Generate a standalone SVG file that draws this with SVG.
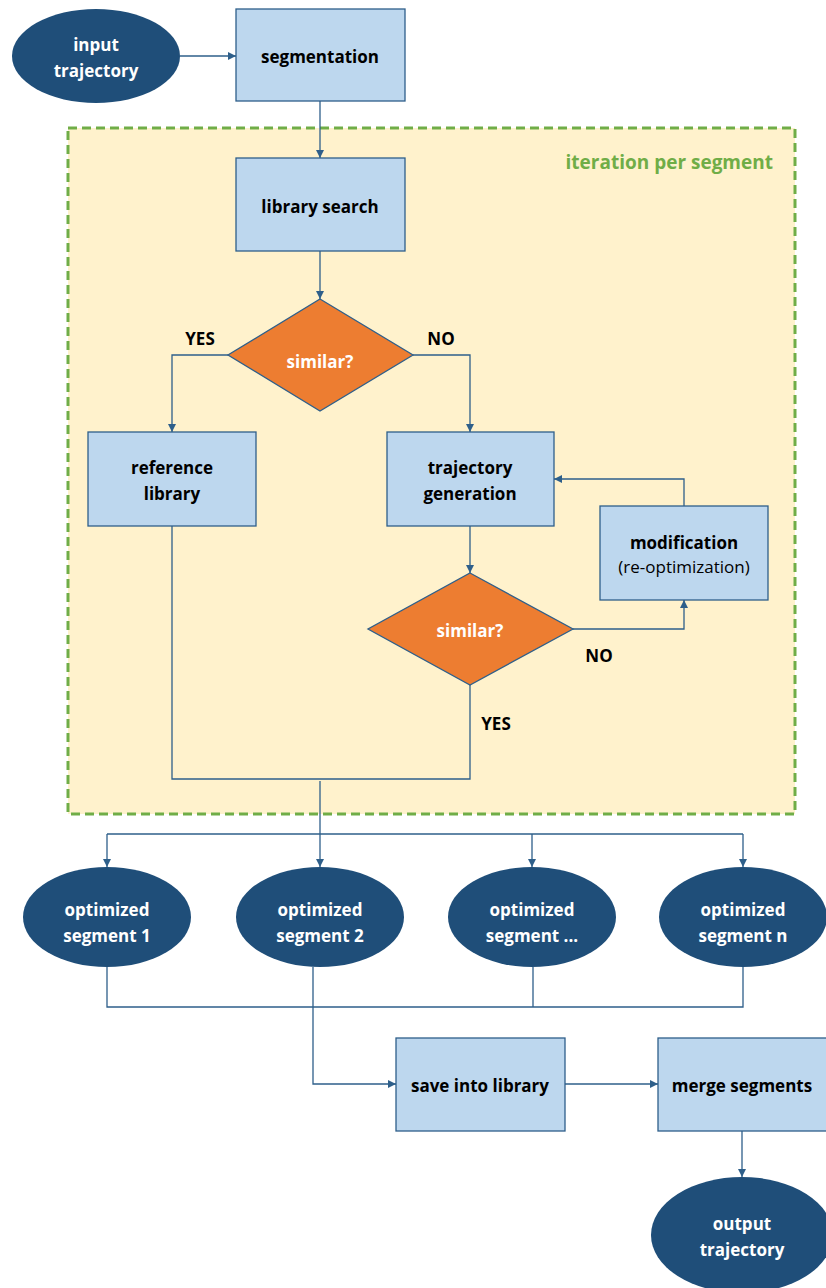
<svg xmlns="http://www.w3.org/2000/svg" width="826" height="1288" viewBox="0 0 826 1288">
<style>
.t{font-family:"Open Sans","Liberation Sans",sans-serif;font-weight:bold;font-size:17px;text-anchor:middle;dominant-baseline:central;font-variant-ligatures:none}
.dk{fill:#000}
.wh{fill:#fff}
.box{fill:#BDD7EE;stroke:#2E5F8A;stroke-width:1.3}
.ell{fill:#1F4E79}
.dia{fill:#ED7D31;stroke:#2E5F8A;stroke-width:1.3}
.c{fill:none;stroke:#2E5F8A;stroke-width:1.3}
.ca{fill:none;stroke:#2E5F8A;stroke-width:1.3;marker-end:url(#ah)}
</style>
<defs>
<marker id="ah" viewBox="0 0 10 10" refX="10" refY="5" markerWidth="8" markerHeight="8" markerUnits="userSpaceOnUse" orient="auto">
<path d="M0,0 L10,5 L0,10 z" fill="#2E5F8A"/>
</marker>
</defs>
<rect width="826" height="1288" fill="#fff"/>
<g id="loop-region">
<rect x="68" y="128" width="727" height="686" fill="#FFF2CC" stroke="#70AD47" stroke-width="3" stroke-dasharray="9,5"/>
<text class="t" x="773" y="162" style="text-anchor:end;fill:#70AD47;font-size:19px">iteration per segment</text>
</g>
<g id="connectors">
<path class="ca" d="M180,56 H236"/>
<path class="ca" d="M320,101 V158"/>
<path class="ca" d="M320,251 V299"/>
<path class="ca" d="M228,355 H172 V432"/>
<path class="ca" d="M413,355 H470 V432"/>
<path class="ca" d="M470,526 V573"/>
<path class="ca" d="M573,629 H684 V600"/>
<path class="ca" d="M684,506 V479 H554"/>
<path class="c" d="M470,685 V779 H172 V526"/>
<path class="ca" d="M320,781 V867"/>
<path class="c" d="M107,834 H743"/>
<path class="ca" d="M107,834 V867"/>
<path class="ca" d="M532,834 V867"/>
<path class="ca" d="M743,834 V867"/>
<path class="c" d="M107,967 V1007 H743 V967"/>
<path class="c" d="M533,967 V1007"/>
<path class="ca" d="M313,967 V1084 H396"/>
<path class="ca" d="M565,1084 H658"/>
<path class="ca" d="M742,1131 V1177"/>
<text class="t dk" x="200" y="338">YES</text>
<text class="t dk" x="441" y="338">NO</text>
<text class="t dk" x="599" y="655">NO</text>
<text class="t dk" x="496" y="723">YES</text>
</g>
<g id="input-trajectory">
<ellipse class="ell" cx="96" cy="56" rx="84" ry="47"/>
<text class="t wh" x="96" y="44">input</text>
<text class="t wh" x="96" y="70">trajectory</text>
</g>
<g id="segmentation">
<rect class="box" x="236" y="9" width="169" height="92"/>
<text class="t dk" x="320" y="56">segmentation</text>
</g>
<g id="library-search">
<rect class="box" x="236" y="158" width="169" height="93"/>
<text class="t dk" x="320" y="206">library search</text>
</g>
<g id="similar-1">
<polygon class="dia" points="320,299 413,355 320,411 228,355"/>
<text class="t wh" x="320" y="361">similar?</text>
</g>
<g id="reference-library">
<rect class="box" x="88" y="432" width="168" height="94"/>
<text class="t dk" x="172" y="467">reference</text>
<text class="t dk" x="172" y="493">library</text>
</g>
<g id="trajectory-generation">
<rect class="box" x="387" y="432" width="167" height="94"/>
<text class="t dk" x="470" y="467">trajectory</text>
<text class="t dk" x="470" y="493">generation</text>
</g>
<g id="modification">
<rect class="box" x="600" y="506" width="168" height="94"/>
<text class="t dk" x="684" y="542">modification</text>
<text class="t dk" x="684" y="566" style="font-weight:normal;font-size:17px">(re-optimization)</text>
</g>
<g id="similar-2">
<polygon class="dia" points="470,573 573,629 470,685 368,629"/>
<text class="t wh" x="470" y="630">similar?</text>
</g>
<g id="optimized-segment-1">
<ellipse class="ell" cx="107" cy="917" rx="84" ry="50"/>
<text class="t wh" x="107" y="909">optimized</text>
<text class="t wh" x="107" y="935">segment 1</text>
</g>
<g id="optimized-segment-2">
<ellipse class="ell" cx="320" cy="917" rx="84" ry="50"/>
<text class="t wh" x="320" y="909">optimized</text>
<text class="t wh" x="320" y="935">segment 2</text>
</g>
<g id="optimized-segment-dots">
<ellipse class="ell" cx="532" cy="917" rx="84" ry="50"/>
<text class="t wh" x="532" y="909">optimized</text>
<text class="t wh" x="532" y="935">segment ...</text>
</g>
<g id="optimized-segment-n">
<ellipse class="ell" cx="743" cy="917" rx="84" ry="50"/>
<text class="t wh" x="743" y="909">optimized</text>
<text class="t wh" x="743" y="935">segment n</text>
</g>
<g id="save-into-library">
<rect class="box" x="396" y="1038" width="169" height="93"/>
<text class="t dk" x="480" y="1085">save into library</text>
</g>
<g id="merge-segments">
<rect class="box" x="658" y="1038" width="170" height="93"/>
<text class="t dk" x="742" y="1085">merge segments</text>
</g>
<g id="output-trajectory">
<ellipse class="ell" cx="742" cy="1235" rx="91" ry="58"/>
<text class="t wh" x="742" y="1223">output</text>
<text class="t wh" x="742" y="1249">trajectory</text>
</g>
</svg>
